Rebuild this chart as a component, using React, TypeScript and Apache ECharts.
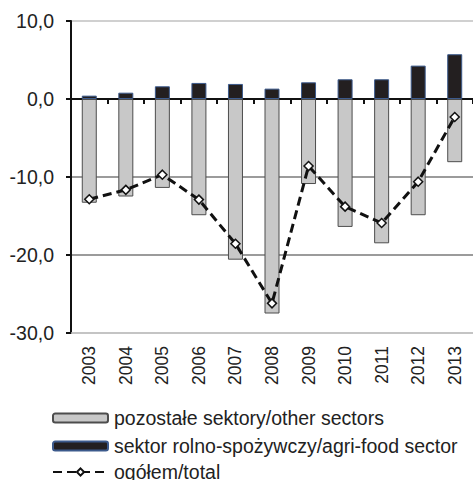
import React, { useEffect, useRef } from "react";
import * as echarts from "echarts";

const years = ["2003", "2004", "2005", "2006", "2007", "2008", "2009", "2010", "2011", "2012", "2013"];
const otherSectors = [-13.3, -12.5, -11.4, -14.9, -20.6, -27.5, -10.9, -16.4, -18.5, -14.9, -8.1];
const agriFood = [0.43, 0.81, 1.63, 2.06, 1.93, 1.33, 2.14, 2.53, 2.53, 4.28, 5.74];
const total = [-12.85, -11.65, -9.7, -12.9, -18.55, -26.2, -8.6, -13.8, -15.9, -10.6, -2.3];
const yTickLabels: Record<string, string> = { "-30": "-30,0", "-20": "-20,0", "-10": "-10,0", "0": "0,0", "10": "10,0" };
const seriesNames = ["pozostałe sektory/other sectors", "sektor rolno-spożywczy/agri-food sector", "ogółem/total"];

const FONT = "'Liberation Sans', Arial, sans-serif";

export default function App() {
  const ref = useRef<HTMLDivElement>(null);
  useEffect(() => {
    if (!ref.current) return;
    const chart = echarts.init(ref.current, undefined, { renderer: "svg" });
    const legendTops = [408, 436, 462];
    chart.setOption({
      animation: false,
      backgroundColor: "#ffffff",
      textStyle: { fontFamily: FONT },
      grid: { left: 71, top: 21, width: 403, height: 312, containLabel: false },
      legend: seriesNames.map((name, i) => ({
        orient: "vertical",
        left: 52,
        top: legendTops[i],
        padding: 0,
        itemWidth: 55,
        itemHeight: 9,
        selectedMode: false,
        textStyle: { fontSize: 19.5, color: "#222", fontFamily: FONT, lineHeight: 20, padding: [0, 0, 0, 1] },
        data: [name],
      })),
      xAxis: [
        {
          type: "category",
          data: years,
          position: "bottom",
          axisLine: { show: true, onZero: false, lineStyle: { color: "#c0c0c0", width: 1.5 } },
          axisTick: { show: false },
          axisLabel: { rotate: 90, fontSize: 17.5, color: "#222", margin: 13, fontFamily: FONT },
        },
        {
          type: "category",
          data: years,
          position: "top",
          axisLine: { show: true, onZero: true, lineStyle: { color: "#111", width: 2 } },
          axisTick: { show: true, inside: true, length: 5, lineStyle: { color: "#111", width: 2 } },
          axisLabel: { show: false },
        },
      ],
      yAxis: {
        type: "value",
        min: -30,
        max: 10,
        interval: 10,
        axisLine: { show: true, lineStyle: { color: "#111", width: 2 } },
        axisTick: { show: true, length: 5, lineStyle: { color: "#111", width: 2 } },
        axisLabel: {
          fontSize: 19.5,
          color: "#222",
          margin: 17,
          fontFamily: FONT,
          formatter: (v: number) => yTickLabels[String(v)] ?? String(v),
        },
        splitLine: {
          show: true,
          lineStyle: { color: ["#c0c0c0", "#7a7a7a", "#7a7a7a", "#7a7a7a", "#c0c0c0"], width: 1.5 },
        },
      },
      series: [
        {
          name: seriesNames[0],
          type: "bar",
          stack: "s",
          barWidth: 15,
          data: otherSectors,
          itemStyle: { color: "#c8c8c8", borderColor: "#4d4d4d", borderWidth: 1 },
        },
        {
          name: seriesNames[1],
          type: "bar",
          stack: "s",
          barWidth: 15,
          data: agriFood,
          itemStyle: { color: "#231f20", borderColor: "#3c5a8c", borderWidth: 1 },
        },
        {
          name: seriesNames[2],
          type: "line",
          data: total,
          z: 5,
          symbol: "diamond",
          symbolSize: 9,
          lineStyle: { color: "#111", width: 3, type: [9, 5] },
          itemStyle: { color: "#fff", borderColor: "#111", borderWidth: 1.5 },
        },
      ],
    });
    return () => chart.dispose();
  }, []);
  return <div ref={ref} style={{ position: "fixed", left: 0, top: 0, width: 473, height: 480 }} />;
}
